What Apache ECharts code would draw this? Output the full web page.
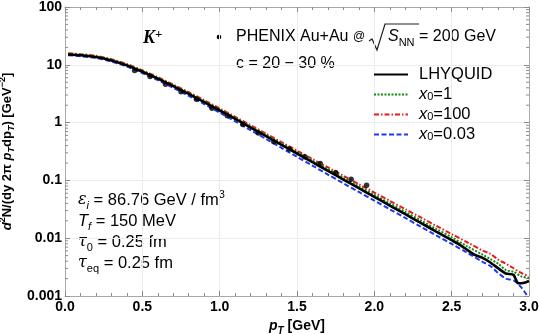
<!DOCTYPE html>
<html><head><meta charset="utf-8">
<script src="https://cdn.jsdelivr.net/npm/echarts@6/dist/echarts.min.js"></script>
<style>html,body{margin:0;padding:0;background:#fff}#c{width:540px;height:334px}</style>
</head><body><div id="c"></div>
<script>
// ---- data ----
const xTickLabels = ['0.0','0.5','1.0','1.5','2.0','2.5','3.0'];
const yTickLabels = ['0.001','0.01','0.1','1','10','100'];

const phenixPt = [0.45,0.55,0.65,0.75,0.85,0.95,1.05,1.15,1.25,1.35,1.45,1.55,1.65,1.75,1.85,1.95];
const phenixY  = [7.94,6.25,4.61,3.43,2.54,1.77,1.31,0.93,0.66,0.466,0.348,0.256,0.197,0.137,0.105,0.0826];

const lhyPt = [0.02,0.1,0.2,0.3,0.4,0.5,0.6,0.7,0.8,0.9,1.0,1.1,1.2,1.3,1.4,1.5,1.6,1.7,1.8,1.9,2.0,2.1,2.2,2.3,2.4,2.5,2.55,2.6,2.65,2.7,2.75,2.8,2.85,2.9,2.93,2.97,3.0];
const lhyY  = [15.1,14.6,13.6,11.9,9.77,7.59,5.75,4.27,3.13,2.26,1.62,1.16,0.822,0.582,0.412,0.292,0.207,0.146,0.1035,0.0733,0.0519,0.0367,0.0260,0.0184,0.0130,0.00923,0.00776,0.00631,0.00513,0.00457,0.0038,0.00302,0.00245,0.00232,0.00166,0.0017,0.00182];

const x1Pt = [0.02,0.1,0.2,0.3,0.4,0.5,0.6,0.7,0.8,0.9,1.0,1.1,1.2,1.3,1.4,1.5,1.6,1.7,1.8,1.9,2.0,2.1,2.2,2.3,2.4,2.5,2.6,2.7,2.75,2.8,2.85,2.9,2.95,3.0];
const x1Y  = [15.5,15.0,14.0,12.2,10.05,7.82,5.94,4.42,3.24,2.36,1.69,1.21,0.861,0.612,0.435,0.309,0.22,0.156,0.111,0.079,0.0562,0.0401,0.0285,0.0203,0.0145,0.01035,0.00724,0.00519,0.00437,0.00363,0.00282,0.00263,0.00219,0.00204];

const x100Pt = [0.02,0.1,0.2,0.3,0.4,0.5,0.6,0.7,0.8,0.9,1.0,1.1,1.2,1.3,1.4,1.5,1.6,1.7,1.8,1.9,2.0,2.1,2.2,2.3,2.4,2.5,2.6,2.7,2.75,2.8,2.85,2.9,2.95,3.0];
const x100Y  = [15.8,15.3,14.3,12.5,10.3,8.04,6.12,4.55,3.35,2.44,1.76,1.26,0.902,0.643,0.459,0.328,0.234,0.1675,0.12,0.0859,0.0617,0.0443,0.0318,0.0229,0.0164,0.0118,0.00851,0.0061,0.00537,0.00427,0.00363,0.00302,0.00251,0.00219];

const x003Pt = [0.02,0.1,0.2,0.3,0.4,0.5,0.6,0.7,0.8,0.9,1.0,1.1,1.2,1.3,1.4,1.5,1.6,1.7,1.8,1.9,2.0,2.1,2.2,2.3,2.4,2.5,2.6,2.7,2.75,2.8,2.85,2.9,2.95,2.99];
const x003Y  = [14.6,14.1,13.1,11.4,9.33,7.21,5.43,4.0,2.9,2.09,1.49,1.05,0.741,0.52,0.365,0.256,0.18,0.126,0.0891,0.0631,0.0447,0.0316,0.0224,0.0158,0.0112,0.00794,0.00562,0.00389,0.00331,0.00251,0.002,0.00186,0.00141,0.001];

const seriesNames = ['LHYQUID','x0=1','x0=100','x0=0.03'];

// ---- helpers ----
const zip = (a,b) => a.map((v,i)=>[v,b[i]]);
const F = '"Liberation Sans", Arial, Helvetica, sans-serif';
const minorVals = [];
for (let e=-3; e<2; e++) for (let m=2; m<=9; m++) minorVals.push(m*Math.pow(10,e));

const legendRich = {
  n:{fontFamily:F,fontSize:16.5,color:'#000',lineHeight:16},
  i:{fontFamily:F,fontSize:16.5,fontStyle:'italic',color:'#000',lineHeight:16},
  s:{fontFamily:F,fontSize:11,color:'#000',lineHeight:8,verticalAlign:'bottom'}
};
function legendFmt(name){
  if (name==='LHYQUID') return '{n|LHYQUID}';
  const v = name.split('=')[1];
  return '{i|x}{s|0}{n|='+v+'}';
}
function mkRich(fs){
  const sf = Math.round(fs*0.68);
  return {
    t:{fontFamily:F,fontSize:fs,color:'#222',lineHeight:22},
    it:{fontFamily:F,fontSize:fs,fontStyle:'italic',color:'#222',lineHeight:22},
    g:{fontFamily:'"DejaVu Serif", serif',fontSize:fs-0.5,fontStyle:'italic',color:'#222',lineHeight:22},
    sub:{fontFamily:F,fontSize:sf,color:'#222',lineHeight:10,verticalAlign:'bottom'},
    subi:{fontFamily:F,fontSize:sf,fontStyle:'italic',color:'#222',lineHeight:10,verticalAlign:'bottom'},
    sup:{fontFamily:F,fontSize:sf,color:'#222',lineHeight:10,verticalAlign:'top'},
    at:{fontFamily:F,fontSize:12,color:'#222',lineHeight:22}
  };
}
const tRich = mkRich(16);
const pRich = mkRich(16.5);
const axRich = {
  b:{fontFamily:F,fontSize:14,fontWeight:'bold',color:'#000',lineHeight:20},
  bi:{fontFamily:F,fontSize:14,fontWeight:'bold',fontStyle:'italic',color:'#000',lineHeight:20},
  sub:{fontFamily:F,fontSize:10,fontWeight:'bold',fontStyle:'italic',color:'#000',lineHeight:10,verticalAlign:'bottom'},
  sup:{fontFamily:F,fontSize:10,fontWeight:'bold',color:'#000',lineHeight:10,verticalAlign:'top'}
};
const ayRich = {
  b:{fontFamily:F,fontSize:13,fontWeight:'bold',color:'#000',lineHeight:18},
  bi:{fontFamily:F,fontSize:13,fontWeight:'bold',fontStyle:'italic',color:'#000',lineHeight:18},
  sub:{fontFamily:F,fontSize:9,fontWeight:'bold',fontStyle:'italic',color:'#000',lineHeight:9,verticalAlign:'bottom'},
  sup:{fontFamily:F,fontSize:9,fontWeight:'bold',color:'#000',lineHeight:9,verticalAlign:'top'}
};

const frame = '#a8a8a8', tickC = '#8c8c8c', gridC = '#ebebeb';
const chart = echarts.init(document.getElementById('c'), null, {renderer:'canvas'});
chart.setOption({
  animation:false,
  backgroundColor:'#fff',
  grid:{left:65,right:11,top:7,bottom:38,outerBoundsMode:'none',containLabel:false},
  xAxis:[{
    type:'value',min:0,max:3,interval:0.5,position:'bottom',
    axisLine:{show:true,onZero:false,lineStyle:{color:frame,width:1}},
    axisTick:{show:true,inside:true,length:5,lineStyle:{color:tickC}},
    minorTick:{show:true,splitNumber:5,length:3,lineStyle:{color:tickC}},
    splitLine:{show:true,lineStyle:{color:gridC}},
    axisLabel:{color:'#000',fontWeight:'bold',fontSize:14,fontFamily:F,margin:4,
      formatter:(v)=>xTickLabels[Math.round(v/0.5)]},
    name:'{bi|p}{sub|T}{b| [GeV]}',nameLocation:'middle',nameGap:19,
    nameTextStyle:{rich:axRich}
  },{
    type:'value',min:0,max:3,interval:0.5,position:'top',
    axisLine:{show:true,onZero:false,lineStyle:{color:frame,width:1}},
    axisTick:{show:true,inside:true,length:5,lineStyle:{color:tickC}},
    minorTick:{show:true,splitNumber:5,length:3,lineStyle:{color:tickC}},
    splitLine:{show:false},axisLabel:{show:false}
  }],
  yAxis:[{
    type:'log',logBase:10,min:0.001,max:100,position:'left',
    axisLine:{show:true,onZero:false,lineStyle:{color:frame,width:1}},
    axisTick:{show:true,inside:true,length:5,lineStyle:{color:tickC}},
    splitLine:{show:true,lineStyle:{color:gridC}},
    axisLabel:{color:'#000',fontWeight:'bold',fontSize:14,fontFamily:F,margin:3,
      formatter:(v)=>yTickLabels[Math.round(Math.log10(v))+3]},
    name:'{bi|d}{sup|2}{b|N/(dy 2π }{bi|p}{sub|T}{b|dp}{sub|T}{b|) [GeV}{sup|−2}{b|]}',
    nameLocation:'middle',nameRotate:90,nameGap:38,
    nameTextStyle:{rich:ayRich}
  },{
    type:'log',logBase:10,min:0.001,max:100,position:'right',
    axisLine:{show:true,onZero:false,lineStyle:{color:frame,width:1}},
    axisTick:{show:true,inside:true,length:5,lineStyle:{color:tickC}},
    splitLine:{show:false},axisLabel:{show:false}
  }],
  legend:{
    orient:'vertical',left:373,top:66,padding:0,itemWidth:34,itemHeight:16,itemGap:3,
    selectedMode:false,data:seriesNames,formatter:legendFmt,
    itemStyle:{opacity:0,color:'transparent',borderWidth:0},
    textStyle:{padding:[0,0,0,6],rich:legendRich}
  },
  series:[
    {name:'x0=0.03',type:'line',data:zip(x003Pt,x003Y),symbol:'none',smooth:0.3,z:3,
      lineStyle:{color:'#2038f0',width:2,type:[5,2.5]},itemStyle:{color:'#2038f0'}},
    {name:'x0=100',type:'line',data:zip(x100Pt,x100Y),symbol:'none',smooth:0.3,z:3,
      lineStyle:{color:'#e81c1c',width:2,type:[5,2,1.5,2]},itemStyle:{color:'#e81c1c'}},
    {name:'x0=1',type:'line',data:zip(x1Pt,x1Y),symbol:'none',smooth:0.3,z:4,
      lineStyle:{color:'#118a11',width:2,type:[2,1.5]},itemStyle:{color:'#118a11'}},
    {name:'LHYQUID',type:'line',data:zip(lhyPt,lhyY),symbol:'none',smooth:0.2,z:5,
      lineStyle:{color:'#000',width:2.6},itemStyle:{color:'#000'}},
    {name:'PHENIX',type:'scatter',data:zip(phenixPt,phenixY),symbol:'circle',symbolSize:5.5,z:6,
      itemStyle:{color:'#000'}},
    {name:'minor',type:'custom',silent:true,clip:false,z:2,data:minorVals.map(v=>[0,v]),
      renderItem:(p,api)=>{
        const y = api.coord([0,api.value(1)])[1];
        const cs = p.coordSys; const x0 = cs.x, x1 = cs.x+cs.width;
        const st = {stroke:tickC,lineWidth:1};
        return {type:'group',children:[
          {type:'line',shape:{x1:x0,y1:y,x2:x0+3,y2:y},style:st},
          {type:'line',shape:{x1:x1-3,y1:y,x2:x1,y2:y},style:st}
        ]};
      }}
  ],
  graphic:[
    {type:'text',x:143,y:38,style:{text:'{k|K}{p|+}',verticalAlign:'middle',
      rich:{k:{fontFamily:'"Liberation Serif", serif',fontSize:18,fontWeight:'bold',fontStyle:'italic',color:'#000',lineHeight:20},
            p:{fontFamily:'"Liberation Serif", serif',fontSize:13,fontWeight:'bold',color:'#000',lineHeight:12,verticalAlign:'top'}}}},
    {type:'circle',shape:{cx:219,cy:37,r:2.3},style:{fill:'#000'}},
    {type:'text',x:236,y:37,style:{text:'{t|PHENIX Au+Au }{at|@}',verticalAlign:'middle',rich:tRich}},
    {type:'polyline',shape:{points:[[369,41],[372,39],[377,50],[385,24],[419,24]]},style:{stroke:'#222',lineWidth:1.2,fill:null}},
    {type:'text',x:388,y:37,style:{text:'{it|S}{sub|NN}{t| = 200 GeV}',verticalAlign:'middle',rich:tRich}},
    {type:'text',x:236,y:64,style:{text:'{t|c = 20 − 30 %}',verticalAlign:'middle',rich:tRich}},
    {type:'text',x:78,y:200,style:{text:'{g|ε}{subi|i}{t| = 86.76 GeV / fm}{sup|3}',verticalAlign:'middle',rich:pRich}},
    {type:'text',x:78,y:221,style:{text:'{it|T}{subi|f}{t| = 150 MeV}',verticalAlign:'middle',rich:pRich}},
    {type:'text',x:78,y:242,style:{text:'{g|τ}{sub|0}{t| = 0.25 fm}',verticalAlign:'middle',rich:pRich}},
    {type:'text',x:78,y:263,style:{text:'{g|τ}{sub|eq}{t| = 0.25 fm}',verticalAlign:'middle',rich:pRich}}
  ]
});
</script></body></html>
